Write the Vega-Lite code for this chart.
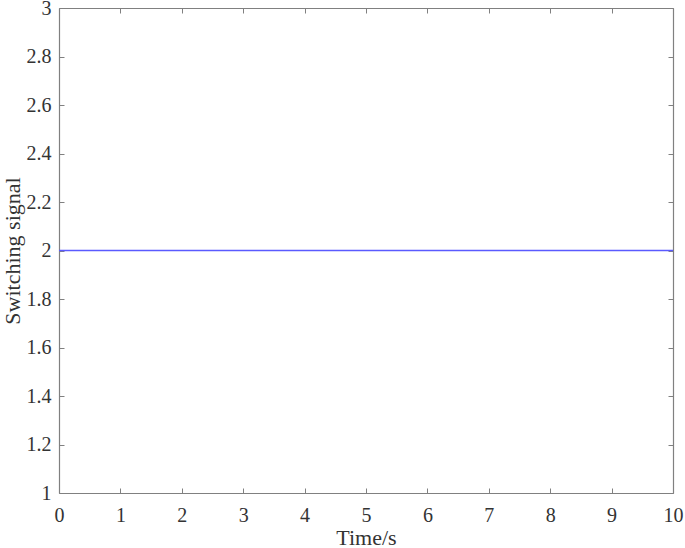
{
  "$schema": "https://vega.github.io/schema/vega-lite/v6.json",
  "autosize": "none",
  "width": 614,
  "height": 485,
  "padding": {"left": 59, "top": 8, "right": 12, "bottom": 55},
  "background": "white",
  "data": {"values": [{"t": 0, "s": 2}, {"t": 10, "s": 2}]},
  "layer": [
    {
      "mark": {"type": "line", "color": "#5a5aff", "strokeWidth": 1.5, "clip": true},
      "encoding": {
        "x": {"field": "t", "type": "quantitative", "scale": {"domain": [0, 10], "nice": false},
          "axis": {"orient": "bottom", "title": "Time/s", "format": "d", "values": [0,1,2,3,4,5,6,7,8,9,10]}},
        "y": {"field": "s", "type": "quantitative", "scale": {"domain": [1, 3], "nice": false, "zero": false},
          "axis": {"orient": "left", "title": "Switching signal", "format": ".1~f", "values": [1,1.2,1.4,1.6,1.8,2,2.2,2.4,2.6,2.8,3]}}
      }
    },
    {
      "mark": {"type": "line", "opacity": 0},
      "encoding": {
        "x": {"field": "t", "type": "quantitative",
          "axis": {"orient": "top", "title": null, "labels": false, "values": [0,1,2,3,4,5,6,7,8,9,10]}},
        "y": {"field": "s", "type": "quantitative",
          "axis": {"orient": "right", "title": null, "labels": false, "values": [1,1.2,1.4,1.6,1.8,2,2.2,2.4,2.6,2.8,3]}}
      }
    }
  ],
  "config": {
    "view": {"stroke": null},
    "axis": {
      "grid": false,
      "domainColor": "#808080",
      "domainWidth": 1.2,
      "tickColor": "#808080",
      "tickSize": -5,
      "tickWidth": 1,
      "labelFont": "Liberation Serif",
      "labelFontSize": 20,
      "labelColor": "#333333",
      "labelFlush": false,
      "labelOverlap": false,
      "titleFont": "Liberation Serif",
      "titleFontSize": 22,
      "titleFontWeight": "normal",
      "titleColor": "#333333"
    },
    "axisBottom": {"labelPadding": 17, "titlePadding": 2},
    "axisLeft": {"labelPadding": 13, "titlePadding": 2}
  }
}
